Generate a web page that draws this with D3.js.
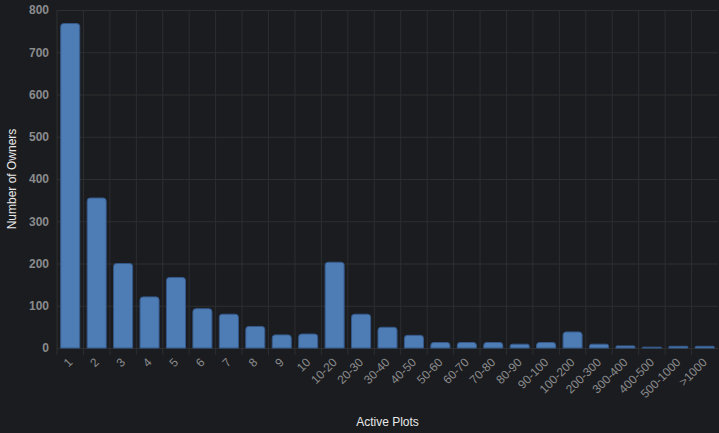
<!DOCTYPE html>
<html><head><meta charset="utf-8">
<script src="https://cdn.jsdelivr.net/npm/d3@7"></script>
<style>
html,body{margin:0;padding:0;background:#1b1c1f;}
svg{display:block;}
</style></head>
<body><svg id="c" width="719" height="433"></svg>
<script>
const categories = ["1","2","3","4","5","6","7","8","9","10","10-20","20-30","30-40","40-50","50-60","60-70","70-80","80-90","90-100","100-200","200-300","300-400","400-500","500-1000",">1000"];
const owners = [768,355,200,121,167,93,80,51,31,33,203,80,49,30,13,13,13,9,13,38,9,5,2,4,4];
const yTicks = [0,100,200,300,400,500,600,700,800];

const W = 719, H = 433;
const m = {left:57, right:1, top:10, bottom:85};
const svg = d3.select("#c");
svg.append("rect").attr("width",W).attr("height",H).attr("fill","#1b1c1f");

const x = d3.scaleBand().domain(categories).range([m.left, W - m.right]).paddingInner(0).paddingOuter(0);
const y = d3.scaleLinear().domain([0,800]).range([H - m.bottom, m.top]);
const font = "'Liberation Sans', Arial, Helvetica, sans-serif";
const gridColor = "#2c2e31";

// horizontal grid
const gy = svg.append("g").attr("transform",`translate(${m.left},0)`)
  .call(d3.axisLeft(y).tickValues(yTicks).tickSize(-(W-m.left-m.right)).tickPadding(8));
gy.select(".domain").remove();
gy.selectAll("line").attr("stroke",gridColor);
gy.selectAll("text").attr("fill","#8a8b8d").attr("font-size","12px").attr("font-family",font).attr("font-weight","bold");

// vertical grid lines at category boundaries
const bounds = categories.map(c => x(c));
svg.append("g").selectAll("line").data(bounds).join("line")
  .attr("x1",d=>d).attr("x2",d=>d).attr("y1",m.top).attr("y2",H - m.bottom + 7)
  .attr("stroke",gridColor);

// x axis labels
const gx = svg.append("g").attr("transform",`translate(0,${H - m.bottom})`)
  .call(d3.axisBottom(x).tickSize(0).tickPadding(0));
gx.select(".domain").remove();
gx.selectAll("text")
  .attr("fill","#8a8b8d").attr("font-size","12px").attr("font-family",font)
  .attr("text-anchor","end").attr("dy",null).attr("y",0)
  .attr("transform","translate(3,15) rotate(-45)");

// bars
const bw = x.bandwidth()*0.72;
svg.append("g").selectAll("path").data(categories.map((c,i)=>({c,v:owners[i]}))).join("path")
  .attr("d", d => {
    const x0 = x(d.c) + (x.bandwidth()-bw)/2, x1 = x0 + bw;
    const y0 = y(d.v), yb = y(0);
    const r = Math.min(3, (yb-y0)/2, bw/2);
    return `M${x0},${yb}L${x0},${y0+r}Q${x0},${y0} ${x0+r},${y0}L${x1-r},${y0}Q${x1},${y0} ${x1},${y0+r}L${x1},${yb}Z`;
  })
  .attr("fill","#4e7db6").attr("stroke","#35598a").attr("stroke-width",1);

// axis titles
svg.append("text").attr("x",(m.left + W - m.right)/2).attr("y",426)
  .attr("text-anchor","middle").attr("fill","#e8e8e8").attr("font-size","12px").attr("font-family",font)
  .text("Active Plots");
svg.append("text").attr("transform",`translate(16,${(m.top + H - m.bottom)/2}) rotate(-90)`)
  .attr("text-anchor","middle").attr("fill","#e8e8e8").attr("font-size","12px").attr("font-family",font)
  .text("Number of Owners");
</script></body></html>
